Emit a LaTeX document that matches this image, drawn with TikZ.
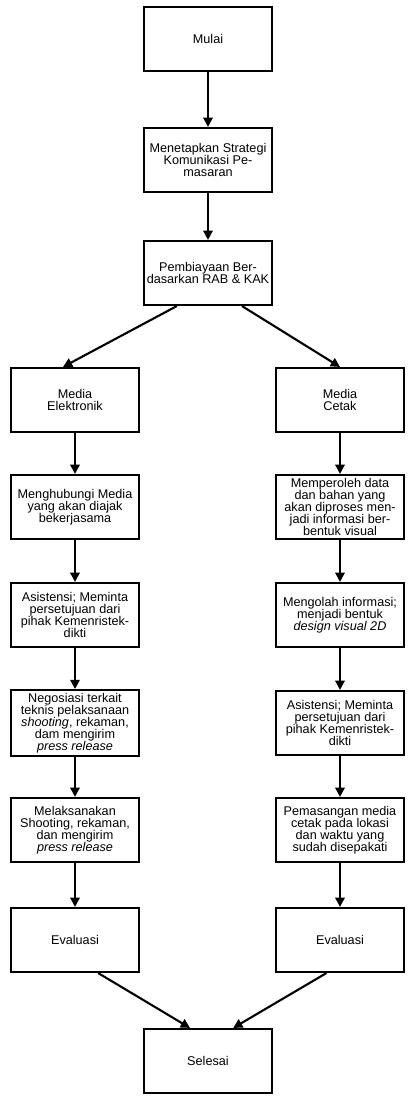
\documentclass[tikz,border=0pt]{standalone}
\usepackage{fontspec}
\setmainfont{Liberation Sans}
\usetikzlibrary{arrows.meta}
\tikzset{
  every picture/.style={line width=1.5pt},
  box/.style={draw=black, align=center, inner sep=2pt, minimum width=3.22cm, minimum height=1.6cm, font=\fontsize{9}{8.6}\selectfont},
  arrow/.style={-{Triangle[length=2.3mm, width=2.3mm]}, draw=black, line width=1.5pt},
}

\begin{document}
\begin{tikzpicture}[x=0.025cm, y=-0.025cm]
  \useasboundingbox (0,0) rectangle (409,1099);
  % centre column
  \node[box] (start) at (208,39) {Mulai};
  \node[box] (strat) at (208,160) {Menetapkan Strategi\\Komunikasi Pe-\\masaran};
  \node[box] (biaya) at (208,273) {Pembiayaan Ber-\\dasarkan RAB \& KAK};
  % media elektronik
  \foreach \n/\y/\t in {1/400/{Media\\Elektronik},
                        2/507/{Menghubungi Media\\yang akan diajak\\bekerjasama},
                        3/615/{Asistensi; Meminta\\persetujuan dari\\pihak Kemenristek-\\dikti},
                        4/723/{Negosiasi terkait\\teknis pelaksanaan\\\textit{shooting}, rekaman,\\dam mengirim\\\textit{press release}},
                        5/830/{Melaksanakan\\Shooting, rekaman,\\dan mengirim\\\textit{press release}},
                        6/940/{Evaluasi}} {
    \node[box] (el\n) at (75,\y) {\t};
  }
  % media cetak
  \foreach \n/\y/\t in {1/400/{Media\\Cetak},
                        2/507/{Memperoleh data\\dan bahan yang\\akan diproses men-\\jadi informasi ber-\\bentuk visual},
                        3/615/{Mengolah informasi;\\menjadi bentuk\\\textit{design visual 2D}},
                        4/723/{Asistensi; Meminta\\persetujuan dari\\pihak Kemenristek-\\dikti},
                        5/830/{Pemasangan media\\cetak pada lokasi\\dan waktu yang\\sudah disepakati},
                        6/940/{Evaluasi}} {
    \node[box] (ct\n) at (340,\y) {\t};
  }
  \node[box] (end) at (208,1061) {Selesai};

  \draw[arrow] (start) -- (strat);
  \draw[arrow] (strat) -- (biaya);
  \draw[arrow] ([xshift=-0.78cm]biaya.south) -- ([xshift=-0.3cm]el1.north);
  \draw[arrow] ([xshift=0.85cm]biaya.south) -- (ct1.north);
  \foreach \a/\b in {1/2,2/3,3/4,4/5,5/6} {
    \draw[arrow] (el\a) -- (el\b);
    \draw[arrow] (ct\a) -- (ct\b);
  }
  \draw[arrow] ([xshift=0.58cm]el6.south) -- ([xshift=-0.45cm]end.north);
  \draw[arrow] ([xshift=-0.34cm]ct6.south) -- ([xshift=0.63cm]end.north);
\end{tikzpicture}
\end{document}
